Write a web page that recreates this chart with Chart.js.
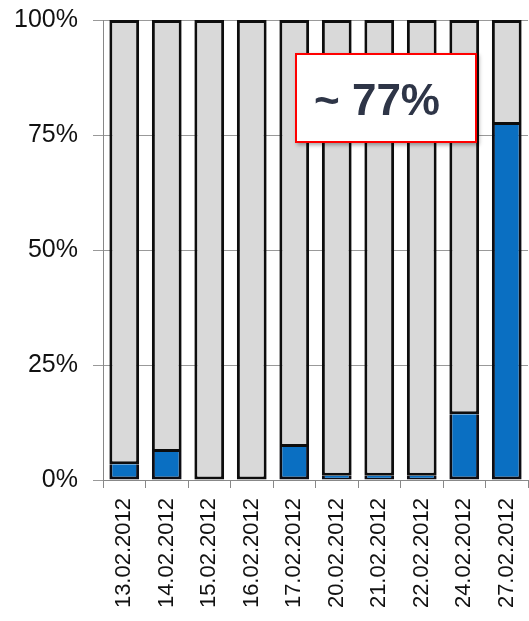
<!DOCTYPE html>
<html>
<head>
<meta charset="utf-8">
<script src="https://cdn.jsdelivr.net/npm/chart.js@4"></script>
<style>
  body { margin: 0; background: #fff; }
  canvas { display: block; }
</style>
</head>
<body>
<canvas id="shareCanvas" width="529" height="621"></canvas>
<script>
const dates = ["13.02.2012", "14.02.2012", "15.02.2012", "16.02.2012", "17.02.2012",
               "20.02.2012", "21.02.2012", "22.02.2012", "24.02.2012", "27.02.2012"];
const shareValues = [3.4, 6.1, 0, 0, 7.2, 0.9, 0.9, 0.9, 14.3, 77.2];
const restValues = shareValues.map(v => 100 - v);
const yTicks = [0, 25, 50, 75, 100];
const calloutText = "~ 77%";

// callout box drawn over the bars
const calloutPlugin = {
    id: "callout",
    afterDraw(chart) {
        const ctx = chart.ctx;
        ctx.save();
        ctx.shadowColor = "rgba(0,0,0,0.35)";
        ctx.shadowBlur = 4;
        ctx.shadowOffsetX = 2;
        ctx.shadowOffsetY = 2;
        ctx.fillStyle = "#fff";
        ctx.fillRect(295, 53, 182, 90);
        ctx.shadowColor = "transparent";
        ctx.strokeStyle = "#ff0000";
        ctx.lineWidth = 2;
        ctx.strokeRect(296, 54, 180, 88);
        ctx.fillStyle = "#2e3547";
        ctx.font = "bold 44px 'Liberation Sans', Arial, sans-serif";
        ctx.textBaseline = "alphabetic";
        ctx.fillText(calloutText, 314, 115);
        ctx.restore();
    }
};

const shareChart = new Chart(document.getElementById("shareCanvas"), {
    type: "bar",
    data: {
        labels: dates,
        datasets: [{
            data: shareValues,
            backgroundColor: "#0a6fc2",
            borderColor: "#0d0d14",
            borderWidth: 3,
            borderSkipped: "end",
            categoryPercentage: 0.7,
            barPercentage: 1
        }, {
            data: restValues,
            backgroundColor: "#d9d9d9",
            borderColor: "#0d0d0d",
            borderWidth: 3,
            borderSkipped: false,
            categoryPercentage: 0.7,
            barPercentage: 1
        }]
    },
    options: {
        responsive: false,
        animation: false,
        layout: { padding: { top: 20, right: 1, left: 0, bottom: 0 } },
        plugins: {
            legend: { display: false },
            tooltip: { enabled: false }
        },
        scales: {
            x: {
                stacked: true,
                afterFit: s => { s.height = 141; s.paddingLeft = 0; s.paddingRight = 0; },
                grid: {
                    drawOnChartArea: false,
                    color: "#888",
                    tickLength: 8
                },
                border: { color: "#888", width: 1 },
                ticks: {
                    minRotation: 90,
                    maxRotation: 90,
                    padding: 10,
                    color: "#111",
                    font: { family: "'Liberation Sans', Arial, sans-serif", size: 22 }
                }
            },
            y: {
                stacked: true,
                min: 0,
                max: 100,
                afterFit: s => { s.width = 103; s.paddingTop = 0; s.paddingBottom = 0; },
                afterBuildTicks: s => { s.ticks = yTicks.map(v => ({ value: v })); },
                grid: {
                    color: "#999",
                    tickLength: 10
                },
                border: { color: "#888", width: 1 },
                ticks: {
                    padding: 15,
                    color: "#111",
                    font: { family: "'Liberation Sans', Arial, sans-serif", size: 25 },
                    callback: v => v + "%"
                }
            }
        }
    },
    plugins: [calloutPlugin]
});
</script>
</body>
</html>
